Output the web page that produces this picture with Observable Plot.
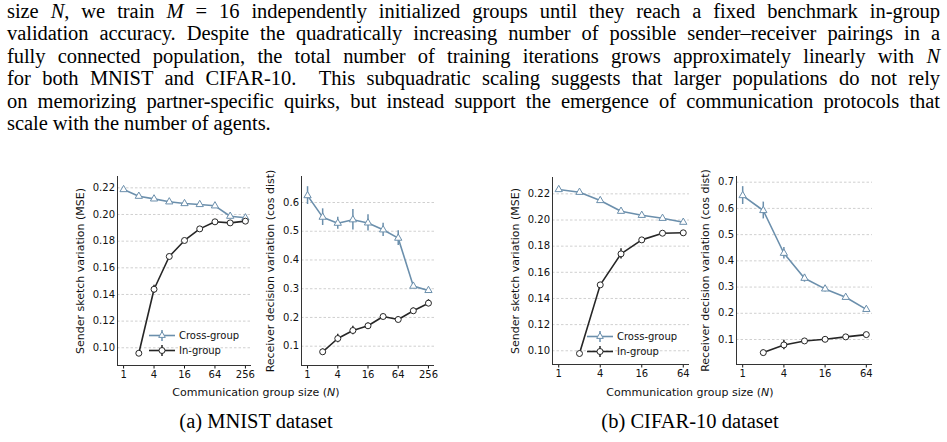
<!DOCTYPE html>
<html><head><meta charset="utf-8">
<script src="https://cdn.jsdelivr.net/npm/d3@7"></script>
<script src="https://cdn.jsdelivr.net/npm/@observablehq/plot@0.6"></script>
<style>
html,body{margin:0;padding:0;background:#fff;}
#page{position:relative;width:947px;height:442px;overflow:hidden;background:#fff;}
.para{position:absolute;left:7px;width:933px;top:0px;font-family:"Liberation Serif",serif;font-size:20.5px;line-height:22.4px;color:#000;}
.para div{text-align:justify;text-align-last:justify;height:22.4px;}
.para div.last{text-align-last:left;}
.fig{position:absolute;}
.xlab{position:absolute;font-family:"DejaVu Sans",sans-serif;font-size:11px;color:#111;transform:translateX(-50%);white-space:nowrap;}
.cap{position:absolute;font-family:"Liberation Serif",serif;font-size:20.5px;color:#000;transform:translateX(-50%);white-space:nowrap;}
.leg{position:absolute;font-family:"DejaVu Sans",sans-serif;font-size:10px;color:#111;}
.leg .row{display:flex;align-items:center;height:15px;}
.leg svg{margin-right:4px;}
</style></head>
<body><div id="page">
<div class="para">
<div>size <i>N</i>, we train <i>M</i> = 16 independently initialized groups until they reach a fixed benchmark in-group</div>
<div>validation accuracy. Despite the quadratically increasing number of possible sender–receiver pairings in a</div>
<div>fully connected population, the total number of training iterations grows approximately linearly with <i>N</i></div>
<div>for both MNIST and CIFAR-10.&nbsp; This subquadratic scaling suggests that larger populations do not rely</div>
<div>on memorizing partner-specific quirks, but instead support the emergence of communication protocols that</div>
<div class="last">scale with the number of agents.</div>
</div>
</div>
<script>
// ---------- data ----------
const mnistN = [1, 2, 4, 8, 16, 32, 64, 128, 256];
const mnistInN = [2, 4, 8, 16, 32, 64, 128, 256];
const cifarN = [1, 2, 4, 8, 16, 32, 64];
const cifarInN = [2, 4, 8, 16, 32, 64];

const mnistSenderCross = [0.2187, 0.2137, 0.2117, 0.2095, 0.2082, 0.2075, 0.2065, 0.1987, 0.1975];
const mnistSenderCrossErr = [0.0008, 0.0008, 0.0008, 0.0008, 0.0008, 0.0008, 0.0008, 0.0008, 0.0008];
const mnistSenderIn = [0.0959, 0.1439, 0.1685, 0.1805, 0.1892, 0.1945, 0.1937, 0.1950];
const mnistSenderInErr = [0.0012, 0.003, 0.0015, 0.0012, 0.001, 0.001, 0.001, 0.001];

const mnistRecvCross = [0.624, 0.549, 0.528, 0.540, 0.529, 0.505, 0.476, 0.309, 0.294];
const mnistRecvCrossErr = [0.031, 0.029, 0.021, 0.036, 0.028, 0.023, 0.026, 0.006, 0.006];
const mnistRecvIn = [0.0805, 0.1268, 0.1546, 0.171, 0.2033, 0.1929, 0.2232, 0.2497];
const mnistRecvInErr = [0.01, 0.015, 0.015, 0.01, 0.008, 0.01, 0.01, 0.012];

const cifarSenderCross = [0.2233, 0.2212, 0.2149, 0.2067, 0.2036, 0.2013, 0.1983];
const cifarSenderCrossErr = [0.0008, 0.0008, 0.0008, 0.0008, 0.0008, 0.0008, 0.0008];
const cifarSenderIn = [0.0979, 0.1504, 0.1741, 0.1848, 0.1899, 0.1902];
const cifarSenderInErr = [0.001, 0.0015, 0.004, 0.0012, 0.001, 0.001];

const cifarRecvCross = [0.649, 0.592, 0.429, 0.3337, 0.293, 0.261, 0.215];
const cifarRecvCrossErr = [0.034, 0.032, 0.022, 0.015, 0.012, 0.008, 0.006];
const cifarRecvIn = [0.050, 0.0794, 0.0946, 0.1008, 0.110, 0.1187];
const cifarRecvInErr = [0.01, 0.018, 0.006, 0.005, 0.005, 0.005];

const senderTicks = [0.10, 0.12, 0.14, 0.16, 0.18, 0.20, 0.22];
const mnistRecvTicks = [0.1, 0.2, 0.3, 0.4, 0.5, 0.6];
const cifarRecvTicks = [0.1, 0.2, 0.3, 0.4, 0.5, 0.6, 0.7];
const mnistXTicks = [1, 4, 16, 64, 256];
const cifarXTicks = [1, 4, 16, 64];

const senderLabel = "Sender sketch variation (MSE)";
const recvLabel = "Receiver decision variation (cos dist)";
const seriesNames = ["Cross-group", "In-group"];

const BLUE = "#6b8fac";
const DARK = "#262626";

// ---------- paragraph fitting (letter-spacing so lines fill the measure) ----------
(function fitPara() {
  const divs = [...document.querySelectorAll(".para div")];
  let ls = 0.8;
  divs.forEach(dv => {
    if (dv.classList.contains("last")) return;
    const s = document.createElement("span");
    s.style.whiteSpace = "nowrap";
    s.innerHTML = dv.innerHTML;
    dv.innerHTML = "";
    dv.appendChild(s);
    const w = s.getBoundingClientRect().width;
    const n = s.textContent.length;
    ls = Math.min(ls, (928 - w) / n);
    dv.innerHTML = s.innerHTML;
  });
  document.querySelector(".para").style.letterSpacing = Math.max(ls, -0.5) + "px";
})();

// ---------- panels ----------
const page = document.getElementById("page");
function panel(cfg) {
  const svgTop = 166, svgH = 220;
  const crossData = cfg.N.map((n, i) => ({n, v: cfg.cross[i], e: cfg.crossErr[i]}));
  const inData = cfg.inN.map((n, i) => ({n, v: cfg.inV[i], e: cfg.inErr[i]}));
  const mr = 10;
  const width = cfg.frame.right - cfg.svgLeft + mr;
  const fmt = d3.format(cfg.yFormat);
  const p = Plot.plot({
    width, height: svgH,
    marginLeft: cfg.frame.left - cfg.svgLeft,
    marginRight: mr,
    marginTop: cfg.frame.top - svgTop,
    marginBottom: svgTop + svgH - cfg.frame.bottom,
    style: {fontFamily: "DejaVu Sans", fontSize: "10px", background: "transparent", color: "#111", overflow: "visible"},
    x: {type: "log", base: 2, domain: cfg.xDomain},
    y: {domain: cfg.yDomain},
    marks: [
      Plot.gridY(cfg.yTicks, {stroke: "#c4c4c4", strokeOpacity: 1, strokeDasharray: "2.5,2", strokeWidth: 0.8}),
      Plot.axisY(cfg.yTicks, {tickSize: 0, tickPadding: 2.5, label: null, tickFormat: fmt}),
      Plot.axisX(cfg.xTicks, {tickSize: 3.5, tickPadding: 1.5, label: null, tickFormat: d => String(d)}),
      Plot.ruleX([cfg.xDomain[0]], {stroke: "#333", strokeWidth: 1}),
      Plot.ruleY([cfg.yDomain[0]], {stroke: "#333", strokeWidth: 1}),
      Plot.text([cfg.yLabel], {text: d => d, frameAnchor: "left", textAnchor: "middle", lineAnchor: "middle", rotate: -90, dx: cfg.labelDx, fontSize: 11, fill: "#111"}),
      Plot.line(crossData, {x: "n", y: "v", stroke: BLUE, strokeWidth: 1.6}),
      Plot.ruleX(crossData, {x: "n", y1: d => d.v - d.e, y2: d => d.v + d.e, stroke: BLUE, strokeWidth: 1.5}),
      Plot.dot(crossData, {x: "n", y: "v", symbol: "triangle", r: 2.7, fill: "white", stroke: BLUE, strokeWidth: 1}),
      Plot.line(inData, {x: "n", y: "v", stroke: DARK, strokeWidth: 1.6}),
      Plot.ruleX(inData, {x: "n", y1: d => d.v - d.e, y2: d => d.v + d.e, stroke: DARK, strokeWidth: 1.5}),
      Plot.dot(inData, {x: "n", y: "v", symbol: "circle", r: 3, fill: "white", stroke: DARK, strokeWidth: 1})
    ]
  });
  const div = document.createElement("div");
  div.className = "fig";
  div.style.left = cfg.svgLeft + "px";
  div.style.top = svgTop + "px";
  div.style.width = width + "px";
  div.appendChild(p);
  page.appendChild(div);
}

const mnistXDomain = [Math.pow(2, -0.4), Math.pow(2, 8.4)];
const cifarXDomain = [Math.pow(2, -0.3), Math.pow(2, 6.3)];

panel({N: mnistN, cross: mnistSenderCross, crossErr: mnistSenderCrossErr, inN: mnistInN, inV: mnistSenderIn, inErr: mnistSenderInErr,
  xDomain: mnistXDomain, yDomain: [0.0867, 0.2285], yTicks: senderTicks, xTicks: mnistXTicks, yFormat: ".2f",
  yLabel: senderLabel, frame: {left: 117, right: 251, top: 176, bottom: 365}, svgLeft: 62, labelDx: -37});
panel({N: mnistN, cross: mnistRecvCross, crossErr: mnistRecvCrossErr, inN: mnistInN, inV: mnistRecvIn, inErr: mnistRecvInErr,
  xDomain: mnistXDomain, yDomain: [0.0328, 0.6905], yTicks: mnistRecvTicks, xTicks: mnistXTicks, yFormat: ".1f",
  yLabel: recvLabel, frame: {left: 301, right: 434, top: 176, bottom: 365}, svgLeft: 258, labelDx: -31});
panel({N: cifarN, cross: cifarSenderCross, crossErr: cifarSenderCrossErr, inN: cifarInN, inV: cifarSenderIn, inErr: cifarSenderInErr,
  xDomain: cifarXDomain, yDomain: [0.0895, 0.2325], yTicks: senderTicks, xTicks: cifarXTicks, yFormat: ".2f",
  yLabel: senderLabel, frame: {left: 552, right: 689, top: 177, bottom: 364}, svgLeft: 500, labelDx: -37});
panel({N: cifarN, cross: cifarRecvCross, crossErr: cifarRecvCrossErr, inN: cifarInN, inV: cifarRecvIn, inErr: cifarRecvInErr,
  xDomain: cifarXDomain, yDomain: [0.0047, 0.7217], yTicks: cifarRecvTicks, xTicks: cifarXTicks, yFormat: ".1f",
  yLabel: recvLabel, frame: {left: 736, right: 872, top: 176, bottom: 364}, svgLeft: 694, labelDx: -31});

// ---------- legends ----------
function glyph(color, symbol) {
  const mk = symbol === "triangle"
    ? `<path d="M13,3.6 L16.3,9.4 L9.7,9.4 Z" fill="white" stroke="${color}" stroke-width="1"/>`
    : `<circle cx="13" cy="7.5" r="3" fill="white" stroke="${color}" stroke-width="1"/>`;
  return `<svg width="26" height="15" viewBox="0 0 26 15"><line x1="0" x2="26" y1="7.5" y2="7.5" stroke="${color}" stroke-width="1.6"/><line x1="13" x2="13" y1="2" y2="13" stroke="${color}" stroke-width="1.5"/>${mk}</svg>`;
}
function legend(left, top) {
  const d = document.createElement("div");
  d.className = "leg";
  d.style.left = left + "px";
  d.style.top = top + "px";
  d.innerHTML = `<div class="row">${glyph(BLUE, "triangle")}<span>${seriesNames[0]}</span></div>` +
                `<div class="row">${glyph(DARK, "circle")}<span>${seriesNames[1]}</span></div>`;
  page.appendChild(d);
}
legend(149, 327.5);
legend(587, 328.5);

// ---------- x labels & captions ----------
function addText(cls, html, x, y) {
  const d = document.createElement("div");
  d.className = cls;
  d.innerHTML = html;
  d.style.left = x + "px";
  d.style.top = y + "px";
  page.appendChild(d);
}
addText("xlab", "Communication group size (<i>N</i>)", 256, 386);
addText("xlab", "Communication group size (<i>N</i>)", 690, 386);
addText("cap", "(a) MNIST dataset", 256, 410);
addText("cap", "(b) CIFAR-10 dataset", 690, 410);
</script>
</body></html>
